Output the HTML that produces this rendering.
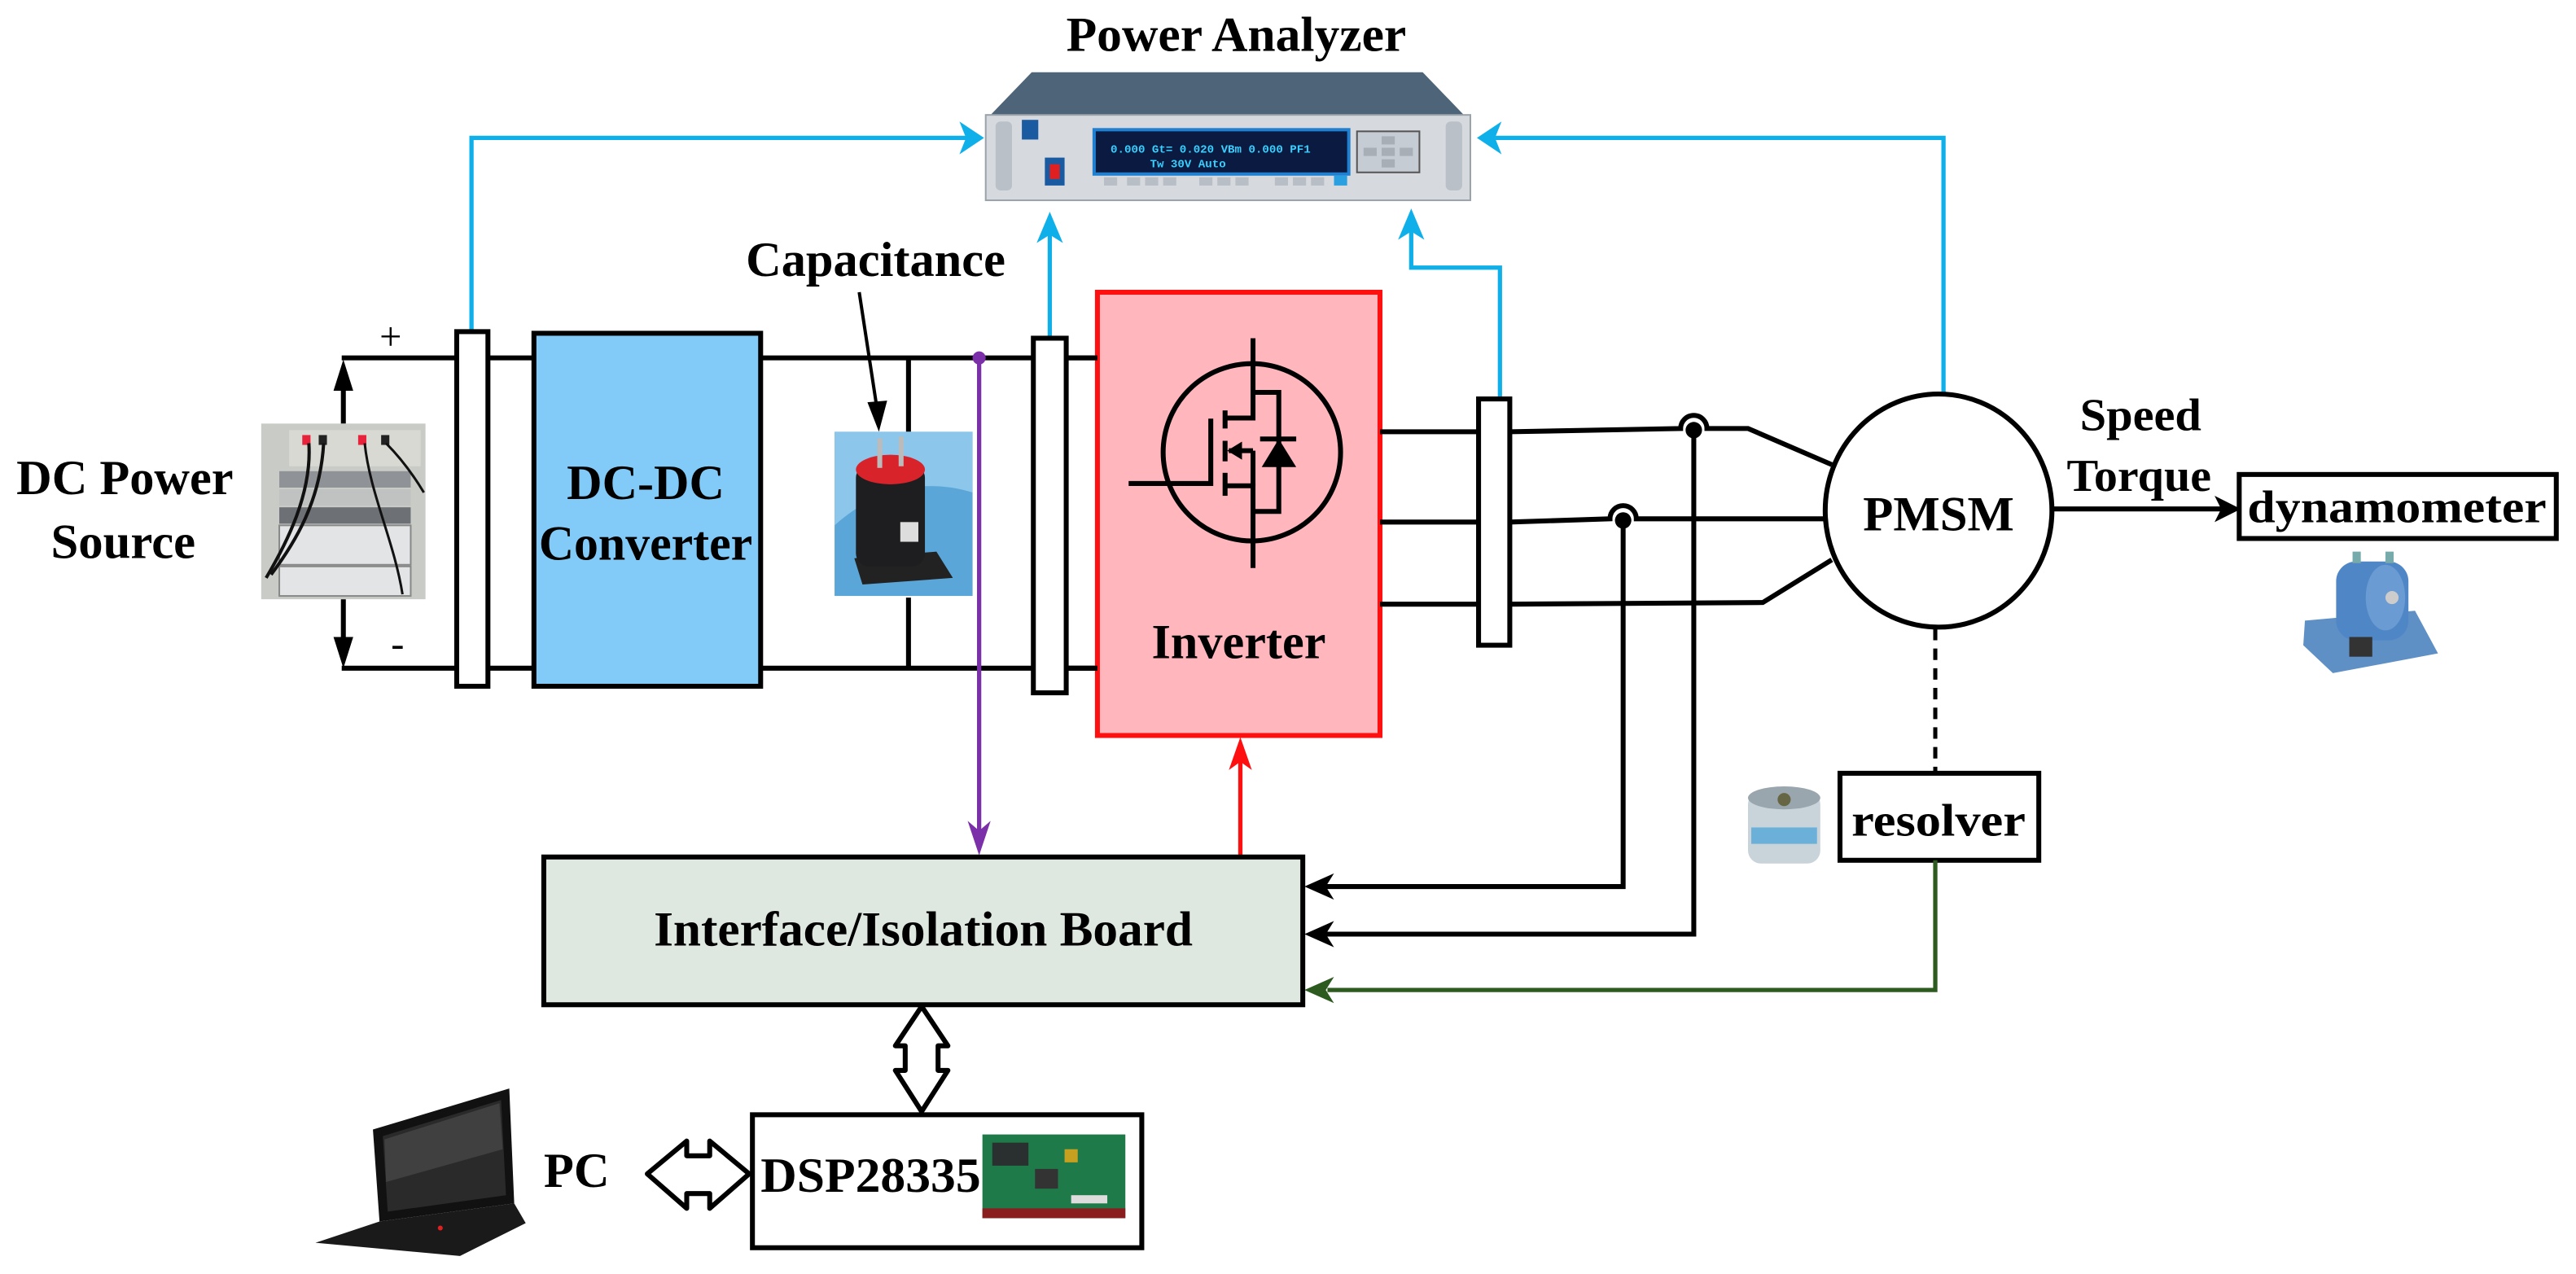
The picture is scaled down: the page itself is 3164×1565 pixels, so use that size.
<!DOCTYPE html>
<html><head><meta charset="utf-8"><style>
html,body{margin:0;padding:0;background:#fff}
svg{display:block}
text{font-family:"Liberation Serif",serif;font-weight:bold;fill:#000}
</style></head><body>
<svg width="3164" height="1565" viewBox="0 0 1568 776" preserveAspectRatio="none" xmlns="http://www.w3.org/2000/svg">
<rect width="1568" height="776" fill="#fff"/>

<text x="649" y="31" font-size="30" textLength="207" lengthAdjust="spacingAndGlyphs">Power Analyzer</text>
<text x="454" y="168" font-size="30" textLength="158" lengthAdjust="spacingAndGlyphs">Capacitance</text>
<text x="10" y="301" font-size="30" textLength="132" lengthAdjust="spacingAndGlyphs">DC Power</text>
<text x="31" y="340" font-size="30" textLength="88" lengthAdjust="spacingAndGlyphs">Source</text>
<text x="231" y="213" font-size="24" style="font-weight:normal">+</text>
<text x="238" y="400" font-size="24" style="font-weight:normal">-</text>

<polygon points="628,44 866,44 892,71 602,71" fill="#4e6478"/>
<rect x="600" y="70" width="295" height="52" fill="#d6dadf" stroke="#9aa2aa" stroke-width="1"/>
<rect x="606" y="74" width="10" height="42" rx="3" fill="#b9c0c7"/>
<rect x="880" y="74" width="10" height="42" rx="3" fill="#b9c0c7"/>
<rect x="622" y="73" width="10" height="12" fill="#1a5aa0"/>
<rect x="666" y="79" width="155" height="27" fill="#0a1a40" stroke="#1f7fd0" stroke-width="2"/>
<text x="676" y="93" font-size="7" style="fill:#38d0ff;font-family:'Liberation Mono',monospace">0.000 Gt=  0.020 VBm  0.000 PF1</text>
<text x="700" y="102" font-size="7" style="fill:#38d0ff;font-family:'Liberation Mono',monospace">Tw       30V Auto</text>
<rect x="636" y="96" width="12" height="17" fill="#1a5aa0"/><rect x="639" y="100" width="6" height="9" fill="#e02020"/>
<g fill="#b8bec6"><rect x="672" y="108" width="8" height="5"/><rect x="686" y="108" width="8" height="5"/><rect x="697" y="108" width="8" height="5"/><rect x="708" y="108" width="8" height="5"/><rect x="730" y="108" width="8" height="5"/><rect x="741" y="108" width="8" height="5"/><rect x="752" y="108" width="8" height="5"/><rect x="776" y="108" width="8" height="5"/><rect x="787" y="108" width="8" height="5"/><rect x="798" y="108" width="8" height="5"/></g>
<rect x="812" y="107" width="8" height="6" fill="#2aa0e0"/>
<rect x="826" y="80" width="38" height="25" fill="#c6ccd3" stroke="#555" stroke-width="1"/>
<g fill="#a8aeb6"><rect x="841" y="83" width="8" height="5"/><rect x="830" y="90" width="8" height="5"/><rect x="841" y="90" width="8" height="5"/><rect x="852" y="90" width="8" height="5"/><rect x="841" y="97" width="8" height="5"/></g>

<g stroke="#0fb0ea" stroke-width="2.6" fill="none">
<polyline points="287,202 287,84 588,84"/>
<polyline points="639,206 639,138"/>
<polyline points="913,243 913,163 859,163 859,136"/>
<polyline points="1183,242 1183,84 910,84"/>
</g>
<g fill="#0fb0ea">
<polygon points="599,84 584,74 588,84 584,94"/>
<polygon points="899,84 914,74 910,84 914,94"/>
<polygon points="639,129 631,148 639,143 647,148"/>
<polygon points="859,127 851,146 859,141 867,146"/>
</g>

<g stroke="#000" stroke-width="3" fill="none">
<line x1="208" y1="218" x2="668" y2="218"/>
<line x1="208" y1="407" x2="668" y2="407"/>
<line x1="209" y1="258" x2="209" y2="228"/>
<line x1="209" y1="365" x2="209" y2="397"/>
<line x1="553" y1="218" x2="553" y2="263"/>
<line x1="553" y1="364" x2="553" y2="407"/>
<line x1="523" y1="178" x2="534" y2="250" stroke-width="2"/>
</g>
<polygon points="209,219 203,238 215,238" fill="#000"/>
<polygon points="209,407 203,388 215,388" fill="#000"/>
<polygon points="535,263 528,245 540,244" fill="#000"/>

<rect x="159" y="258" width="100" height="107" fill="#c9ccc6"/>
<rect x="176" y="262" width="80" height="22" fill="#d8d9d2"/>
<rect x="170" y="287" width="80" height="10" fill="#8f9296"/>
<rect x="170" y="298" width="80" height="10" fill="#bfc2c0"/>
<rect x="170" y="309" width="80" height="10" fill="#6d7175"/>
<rect x="170" y="320" width="80" height="24" fill="#e3e4e6" stroke="#888" stroke-width="1"/>
<rect x="170" y="345" width="80" height="18" fill="#e3e4e6" stroke="#888" stroke-width="1"/>
<rect x="184" y="265" width="5" height="6" fill="#e8223a"/><rect x="194" y="265" width="5" height="6" fill="#222"/>
<rect x="218" y="265" width="5" height="6" fill="#e8223a"/><rect x="232" y="265" width="5" height="6" fill="#222"/>
<path d="M188,270 C190,300 175,330 162,352" stroke="#111" stroke-width="2" fill="none"/>
<path d="M197,270 C195,305 180,330 165,350" stroke="#111" stroke-width="2" fill="none"/>
<path d="M222,270 C225,300 240,330 245,362" stroke="#111" stroke-width="1.5" fill="none"/>
<path d="M235,270 C245,280 252,290 258,300" stroke="#111" stroke-width="1.5" fill="none"/>

<g fill="#fff" stroke="#000" stroke-width="3">
<rect x="278" y="202" width="19" height="216"/>
<rect x="629" y="206" width="20" height="216"/>
<rect x="900" y="243" width="19" height="150"/>
</g>

<rect x="325" y="203" width="138" height="215" fill="#82cbf9" stroke="#000" stroke-width="3"/>
<text x="393" y="304" font-size="30" text-anchor="middle" textLength="96" lengthAdjust="spacingAndGlyphs">DC-DC</text>
<text x="393" y="341" font-size="30" text-anchor="middle" textLength="130" lengthAdjust="spacingAndGlyphs">Converter</text>

<rect x="508" y="263" width="84" height="100" fill="#5aa6d8"/>
<path d="M508,263 L592,263 L592,300 C560,290 530,300 508,320 Z" fill="#8cc6ea"/>
<polygon points="520,340 570,336 580,352 525,356" fill="#222"/>
<rect x="521" y="283" width="42" height="62" rx="8" fill="#1e1e20"/>
<ellipse cx="542" cy="286" rx="21" ry="9" fill="#d8232a"/>
<rect x="534" y="267" width="3" height="18" fill="#bbb"/><rect x="547" y="266" width="3" height="18" fill="#bbb"/>
<rect x="548" y="318" width="11" height="12" fill="#ddd"/>

<line x1="596" y1="218" x2="596" y2="508" stroke="#7b2fa8" stroke-width="2.6"/>
<circle cx="596" cy="218" r="4" fill="#7b2fa8"/>
<polygon points="596,521 589,500 596,506 603,500" fill="#7b2fa8"/>

<rect x="668" y="178" width="172" height="270" fill="#ffb6bc" stroke="#ff1010" stroke-width="3"/>
<line x1="649" y1="218" x2="668" y2="218" stroke="#000" stroke-width="3"/>
<line x1="649" y1="407" x2="668" y2="407" stroke="#000" stroke-width="3"/>
<circle cx="762" cy="275.5" r="54" fill="none" stroke="#000" stroke-width="3"/>
<g stroke="#000" stroke-width="3" fill="none">
<polyline points="762.7,206 762.7,254.6 745.7,254.6"/>
<polyline points="745.7,295.9 762.7,295.9 762.7,346"/>
<polyline points="762.7,274.5 748,274.5"/>
<line x1="762.7" y1="274.5" x2="762.7" y2="296"/>
<polyline points="687,294.5 737,294.5 737,255"/>
<line x1="745.7" y1="250" x2="745.7" y2="261"/>
<line x1="745.7" y1="268.5" x2="745.7" y2="281"/>
<line x1="745.7" y1="288" x2="745.7" y2="302"/>
<polyline points="762.7,239 778.4,239 778.4,311.5 762.7,311.5"/>
<line x1="767" y1="267.4" x2="789" y2="267.4"/>
</g>
<polygon points="747,274.5 756,269 756,280" fill="#000"/>
<polygon points="778.4,267.4 768,284.5 789,284.5" fill="#000"/>
<text x="754" y="401" font-size="30" text-anchor="middle" textLength="106" lengthAdjust="spacingAndGlyphs">Inverter</text>

<g stroke="#000" stroke-width="3" fill="none">
<line x1="840" y1="263" x2="900" y2="263"/>
<line x1="840" y1="318" x2="900" y2="318"/>
<line x1="840" y1="368" x2="900" y2="368"/>
<path d="M919,263 L1023,261 A8,8 0 0 1 1039,261 L1064,261 L1115,283"/>
<path d="M919,318 L980,316 A8,8 0 0 1 996,316 L1110,316"/>
<path d="M919,368 L1073,367 L1115,341"/>
<polyline points="1031,261 1031,569 805,569"/>
<polyline points="988,316 988,540 805,540"/>
</g>
<circle cx="1031" cy="262" r="5" fill="#000"/>
<circle cx="988" cy="317" r="5" fill="#000"/>
<polygon points="794,540 812,532 807,540 812,548" fill="#000"/>
<polygon points="794,569 812,561 807,569 812,577" fill="#000"/>

<ellipse cx="1180" cy="311" rx="69" ry="71" fill="#fff" stroke="#000" stroke-width="3"/>
<text x="1180" y="323" font-size="30" text-anchor="middle" textLength="92" lengthAdjust="spacingAndGlyphs">PMSM</text>
<line x1="1250" y1="310" x2="1352" y2="310" stroke="#000" stroke-width="3"/>
<polygon points="1364,310 1348,302 1352,310 1348,318" fill="#000"/>
<text x="1266" y="262" font-size="28" textLength="74" lengthAdjust="spacingAndGlyphs">Speed</text>
<text x="1258" y="299" font-size="28" textLength="88" lengthAdjust="spacingAndGlyphs">Torque</text>
<rect x="1363" y="289" width="193" height="39" fill="#fff" stroke="#000" stroke-width="3"/>
<text x="1459" y="318" font-size="28" text-anchor="middle" textLength="182" lengthAdjust="spacingAndGlyphs">dynamometer</text>

<polygon points="1403,378 1470,372 1484,398 1420,410 1402,393" fill="#5e8fc5"/>
<rect x="1422" y="342" width="44" height="48" rx="12" fill="#4f86c6"/>
<ellipse cx="1452" cy="364" rx="12" ry="20" fill="#6a9bd2"/>
<circle cx="1456" cy="364" r="4" fill="#ccc"/>
<rect x="1432" y="336" width="5" height="7" fill="#7aa"/><rect x="1452" y="336" width="5" height="7" fill="#7aa"/>
<rect x="1430" y="388" width="14" height="12" fill="#333"/>

<line x1="1178" y1="383" x2="1178" y2="471" stroke="#000" stroke-width="2.5" stroke-dasharray="7,5"/>
<rect x="1120" y="471" width="121" height="53" fill="#fff" stroke="#000" stroke-width="3"/>
<text x="1180" y="509" font-size="28" text-anchor="middle" textLength="106" lengthAdjust="spacingAndGlyphs">resolver</text>
<rect x="1064" y="482" width="44" height="44" rx="8" fill="#c9d3da"/>
<ellipse cx="1086" cy="486" rx="22" ry="7" fill="#9aa6ae"/>
<circle cx="1086" cy="487" r="4" fill="#664"/>
<rect x="1066" y="504" width="40" height="10" fill="#6bb0d8"/>
<polyline points="1178,524 1178,603 808,603" stroke="#2d5a1e" stroke-width="2.6" fill="none"/>
<polygon points="794,603 812,595 807,603 812,611" fill="#2d5a1e"/>

<line x1="755" y1="521" x2="755" y2="462" stroke="#ff1010" stroke-width="2.6"/>
<polygon points="755,449 748,469 755,464 762,469" fill="#ff1010"/>

<rect x="331" y="522" width="462" height="90" fill="#dfe8e0" stroke="#000" stroke-width="3"/>
<text x="562" y="576" font-size="30" text-anchor="middle" textLength="328" lengthAdjust="spacingAndGlyphs">Interface/Isolation Board</text>

<path d="M561,613 L577,637 L571,637 L571,652 L577,652 L561,677 L545,652 L551,652 L551,637 L545,637 Z" fill="#fff" stroke="#000" stroke-width="3" stroke-linejoin="round"/>

<rect x="458" y="679" width="237" height="81" fill="#fff" stroke="#000" stroke-width="3"/>
<text x="463" y="726" font-size="30" textLength="134" lengthAdjust="spacingAndGlyphs">DSP28335</text>
<rect x="598" y="691" width="87" height="51" fill="#1f7a4a"/>
<rect x="604" y="696" width="22" height="14" fill="#2a2f2f"/>
<rect x="630" y="712" width="14" height="12" fill="#333"/>
<rect x="648" y="700" width="8" height="8" fill="#c8a020"/>
<rect x="652" y="728" width="22" height="5" fill="#ddd"/>
<rect x="598" y="736" width="87" height="6" fill="#8a1e1e"/>

<path d="M394,715 L418,695 L418,704 L432,704 L432,695 L456,715 L432,736 L432,727 L418,727 L418,736 Z" fill="#fff" stroke="#000" stroke-width="3" stroke-linejoin="round"/>
<text x="331" y="723" font-size="30" textLength="40" lengthAdjust="spacingAndGlyphs">PC</text>

<polygon points="227,688 310,663 313,733 231,744" fill="#111"/>
<polygon points="233,692 305,670 308,728 236,738" fill="#2a2a2a"/>
<polygon points="234,694 304,672 306,700 235,720" fill="#555" opacity="0.5"/>
<polygon points="231,744 313,733 320,745 280,765 192,757" fill="#1a1a1a"/>
<circle cx="268" cy="748" r="1.5" fill="#e02020"/>
</svg>
</body></html>
